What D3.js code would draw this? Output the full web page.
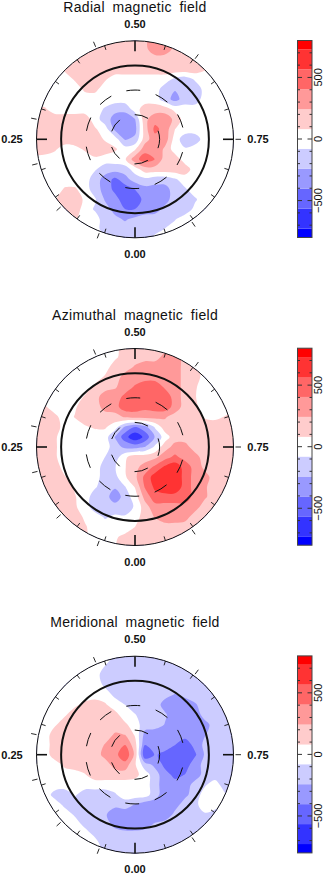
<!DOCTYPE html>
<html lang="en">
<head>
    <meta charset="UTF-8">
    <title>Magnetic field maps</title>
    <script src="https://d3js.org/d3.v7.min.js"></script>
    <style>
        html, body {
            margin: 0;
            background: white;
        }
        text {
            font-family: "Liberation Sans", sans-serif;
            fill: #111;
        }
        .title {
            font-size: 14px;
            word-spacing: 3.5px;
            letter-spacing: 0.3px;
        }
        .phase {
            font-size: 11px;
            font-weight: bold;
        }
        .barLabel {
            font-size: 11px;
        }
    </style>
</head>
<body>
    <script>
        'use strict'

        const titles = ['Radial magnetic field', 'Azimuthal magnetic field', 'Meridional magnetic field']

        //band edges and colours, lowest band first
        const levels = [-728, -566, -404, -242, -80, 80, 242, 404, 566, 728]
        const colors = ['#0000ff', '#3333ff', '#6666ff', '#9999ff', '#ccccff', '#ffffff', '#ffcccc', '#ff9999', '#ff6666', '#ff3333', '#ff0000']
        const barRange = [-800, 800]
        const barTicks = [-800, -700, -600, -500, -400, -300, -200, -100, 0, 100, 200, 300, 400, 500, 600, 700, 800]
        const barLabels = [-500, 0, 500]

        const phaseLabels = [0, 0.25, 0.5, 0.75]
        const minorPhases = d3.range(0, 20).map(i => i / 20)
        const obsPhases = [0.058, 0.1325, 0.211, 0.282, 0.436, 0.602, 0.75, 0.904]
        const colatCircles = [30, 60, 90, 120]

        //field in gauss, read on a square grid over the disc (21 rows, 21 columns)
        const radial = [
            [0,0,0,0,170,170,170,170,170,170,170,200,340,340,200,170,170,0,0,0,0],
            [0,0,0,0,170,170,170,170,170,170,170,200,340,320,200,170,170,0,0,0,0],
            [0,0,0,0,120,170,170,170,170,170,170,170,170,170,170,170,170,100,0,0,0],
            [0,0,0,110,170,170,170,170,170,170,170,170,170,170,170,170,170,90,0,0,0],
            [0,0,0,0,100,170,170,100,0,0,0,0,0,0,-120,-170,-60,0,0,0,0],
            [0,0,0,0,0,110,120,0,0,0,0,0,0,-170,-230,-220,-170,-30,0,0,0],
            [0,0,0,0,0,0,0,0,0,0,0,0,0,-170,-300,-170,-170,0,0,0,0],
            [100,100,0,0,0,0,0,-100,-200,-200,0,170,170,170,30,0,0,0,0,0,0],
            [170,170,170,170,170,170,0,-170,-300,-330,-250,200,340,340,200,0,0,0,0,0,0],
            [170,170,170,170,170,170,100,0,-280,-340,-300,170,450,340,80,0,0,0,0,0,0],
            [170,170,170,170,170,170,170,60,0,-260,-200,170,340,340,0,-170,-170,0,0,0,0],
            [170,170,100,0,30,100,170,170,100,0,60,340,400,200,0,-60,0,0,0,0,0],
            [0,0,0,0,0,0,50,0,0,60,340,500,400,170,170,0,0,0,0,0,0],
            [0,0,0,0,0,0,-60,-170,-170,-170,0,170,170,170,170,170,0,0,0,0,0],
            [0,0,0,0,0,0,-170,-300,-450,-300,-170,-120,-170,-170,-100,0,0,0,0,0,0],
            [0,0,0,100,100,0,-170,-300,-450,-500,-400,-300,-300,-300,-170,-100,0,0,0,0,0],
            [0,0,60,170,170,50,-60,-260,-340,-500,-500,-350,-300,-300,-170,-170,-100,0,0,0,0],
            [0,0,0,170,170,0,-100,-170,-300,-400,-400,-320,-300,-200,-170,-170,-40,0,0,0,0],
            [0,0,0,0,100,0,0,-170,-200,-260,-200,-170,-170,-170,-90,0,0,0,0,0,0],
            [0,0,0,0,0,0,0,-170,-170,-170,-170,-170,-170,-70,0,0,0,0,0,0,0],
            [0,0,0,0,0,0,0,0,-170,-170,-170,-170,0,0,0,0,0,0,0,0,0]
        ]

        const azimuthal = [
            [0,0,0,0,0,0,0,0,0,170,170,170,170,170,170,170,100,0,0,0,0],
            [0,0,0,0,0,0,0,0,40,170,170,170,170,300,340,170,170,0,0,0,0],
            [0,0,0,0,0,0,0,0,170,170,260,340,340,340,340,170,170,0,0,0,0],
            [0,0,0,0,0,0,0,100,170,300,340,340,340,340,340,170,170,0,0,0,0],
            [0,0,0,0,0,0,120,170,220,340,420,500,500,380,340,170,100,0,0,0,0],
            [0,0,0,0,0,100,170,340,340,440,500,500,500,500,340,170,90,0,0,0,0],
            [170,100,0,0,60,170,170,300,340,500,500,450,480,500,340,170,120,0,0,0,0],
            [170,170,120,0,90,170,170,170,170,260,300,300,300,260,170,170,170,60,40,90,170],
            [170,170,170,0,0,60,100,100,0,-270,-404,-300,-60,170,170,170,170,170,170,170,170],
            [170,170,100,0,0,0,0,0,-250,-500,-700,-520,-230,0,170,170,170,170,170,170,170],
            [170,170,100,0,0,0,0,0,-170,-280,-300,-240,-50,170,300,300,170,170,170,170,170],
            [170,170,100,0,0,0,0,-80,-170,50,170,170,200,340,440,340,300,170,170,170,170],
            [170,170,170,0,0,0,0,-150,-90,70,200,300,440,600,670,500,340,200,170,170,170],
            [170,170,170,90,0,0,0,-170,-130,60,200,450,650,700,700,500,340,300,170,170,170],
            [170,170,170,170,60,0,-60,-170,-220,-90,90,420,600,680,680,500,340,260,170,170,170],
            [170,170,170,170,90,0,-170,-170,-340,-170,0,300,500,500,500,500,340,260,170,170,170],
            [170,170,170,170,100,0,-170,-170,-170,-170,-60,170,340,340,340,340,300,170,170,170,170],
            [170,170,170,170,170,50,0,-100,-50,-60,0,170,250,340,340,300,170,170,170,170,170],
            [170,170,170,170,170,100,0,0,0,0,80,170,170,170,170,170,170,170,170,170,170],
            [170,170,170,170,170,100,0,0,60,120,170,170,170,170,170,170,170,170,170,170,170],
            [0,0,0,0,0,0,0,0,60,170,170,170,170,170,170,170,170,170,0,0,0]
        ]

        const meridional = [
            [0,0,0,0,0,0,0,0,-100,-170,-170,-170,-170,-170,-170,-170,-170,-170,-170,-170,-170],
            [0,0,0,0,0,0,0,-70,-170,-170,-170,-170,-170,-170,-170,-170,-170,-170,-170,-170,-170],
            [0,0,0,0,0,0,0,-170,-170,-170,-170,-170,-170,-170,-170,-170,-170,-170,-170,-170,-170],
            [0,0,0,0,0,0,0,-110,-170,-170,-170,-170,-170,-170,-170,-170,-170,-170,-170,-170,-170],
            [0,0,0,0,0,0,0,0,-120,-170,-170,-170,-170,-200,-250,-200,-170,-170,-170,-170,-170],
            [0,0,0,0,50,120,170,100,0,-80,-170,-170,-170,-300,-340,-340,-260,-170,-170,-170,-170],
            [0,0,0,60,170,170,170,170,130,0,-70,-170,-170,-220,-340,-340,-340,-170,-170,-170,-170],
            [0,0,60,170,170,170,170,170,170,110,0,-170,-170,-250,-340,-340,-340,-300,-170,-170,-170],
            [0,0,170,170,170,170,170,170,260,240,60,-300,-340,-340,-340,-340,-340,-250,-170,-170,-170],
            [0,0,170,170,170,170,170,250,340,400,150,-400,-340,-340,-400,-500,-350,-200,-170,-170,-170],
            [0,0,170,170,170,170,170,290,340,550,200,-560,-390,-440,-500,-500,-430,-220,-170,-170,-170],
            [0,0,0,120,170,170,170,170,300,330,100,-170,-280,-450,-500,-500,-300,-200,-170,-170,-170],
            [0,0,0,0,0,70,170,170,170,170,130,0,-170,-340,-450,-400,-340,-170,-170,-170,-170],
            [0,0,0,0,0,0,0,0,0,0,0,0,-170,-340,-340,-340,-170,-100,0,-170,-170],
            [0,0,-140,-170,-60,-170,-170,-170,-100,0,0,0,-170,-340,-340,-280,-170,0,0,-60,-170],
            [0,0,0,-120,-170,-170,-170,-170,-200,-170,-250,-340,-340,-340,-300,-170,-120,0,0,-80,-170],
            [0,0,0,0,-100,-170,-170,-220,-340,-340,-340,-340,-340,-340,-200,-170,-170,-100,-170,-170,-170],
            [0,0,0,0,0,-120,-170,-170,-280,-340,-340,-300,-220,-170,-170,-170,-170,-170,-170,-170,-170],
            [0,0,0,0,0,0,-110,-170,-170,-170,-170,-170,-170,-170,-170,-170,-170,-170,-170,-170,-170],
            [0,0,0,0,0,0,0,-170,-170,-170,-170,-170,-170,-170,-170,-170,-170,-170,-170,-170,-170],
            [0,0,0,0,0,0,0,-170,-170,-170,-170,-170,-170,-170,-170,-170,-170,-170,-170,-170,-170]
        ]

        const fields = [radial, azimuthal, meridional]

        //layout
        const w = 324
        const h = 875
        const panelStep = 307.7
        const cx = 135
        const cy = 139.3
        const outerColat = 120
        const outerR = 98.5
        const gridN = 21

        const svg = d3.select('body')
            .append('svg')
            .attr('width', w)
            .attr('height', h)
            .style('display', 'block')

        //scales
        const rScale = d3.scaleLinear().domain([0, outerColat]).range([0, outerR])
        const angle = d3.scaleLinear().domain([0, 1]).range([0, 2 * Math.PI])
        const gridX = d3.scaleLinear().domain([0.5, gridN - 0.5]).range([cx - 100, cx + 100])
        const gridY = d3.scaleLinear().domain([0.5, gridN - 0.5]).range([cy - 100, cy + 100])
        const barY = d3.scaleLinear().domain(barRange).range([237.5, 40.5])

        const polarX = (phase, r) => cx - r * Math.sin(angle(phase))
        const polarY = (phase, r) => cy + r * Math.cos(angle(phase))

        const contours = d3.contours().size([gridN, gridN]).thresholds(levels)

        //contour rings come out angular on a coarse grid, so round them
        const ringLine = d3.line()
            .x(d => gridX(d[0]))
            .y(d => gridY(d[1]))
            .curve(d3.curveCatmullRomClosed.alpha(0.5))

        const bandPath = band => band.coordinates
            .flatMap(polygon => polygon.map(ring => ringLine(ring.slice(0, -1))))
            .join('')

        svg.append('defs')
            .append('clipPath')
            .attr('id', 'disc')
            .append('circle')
            .attr('cx', cx)
            .attr('cy', cy)
            .attr('r', outerR)

        fields.forEach((field, n) => {
            const g = svg.append('g')
                .attr('transform', `translate(0, ${n * panelStep})`)

            g.append('text')
                .attr('class', 'title')
                .attr('x', cx)
                .attr('y', 12)
                .attr('text-anchor', 'middle')
                .text(titles[n])

            //filled bands
            const map = g.append('g').attr('clip-path', 'url(#disc)')

            map.append('circle')
                .attr('cx', cx)
                .attr('cy', cy)
                .attr('r', outerR)
                .attr('fill', colors[0])

            map.selectAll('path')
                .data(contours(field.flat()))
                .enter()
                .append('path')
                .attr('d', bandPath)
                .attr('fill', (d, i) => colors[i + 1])

            //colatitude circles
            g.selectAll('.colat')
                .data(colatCircles)
                .enter()
                .append('circle')
                .attr('class', 'colat')
                .attr('cx', cx)
                .attr('cy', cy)
                .attr('r', d => rScale(d))
                .attr('fill', 'none')
                .attr('stroke', '#111')
                .attr('stroke-width', d => d === 90 ? 2 : 1)
                .attr('stroke-dasharray', d => d < 90 ? '14 16' : null)
                .attr('stroke-dashoffset', d => d === 30 ? 5 : 17)

            //phase ticks
            g.selectAll('.minor')
                .data(minorPhases)
                .enter()
                .append('line')
                .attr('class', 'minor')
                .attr('x1', d => polarX(d, outerR))
                .attr('y1', d => polarY(d, outerR))
                .attr('x2', d => polarX(d, outerR - (phaseLabels.includes(d) ? 10.5 : 4.5)))
                .attr('y2', d => polarY(d, outerR - (phaseLabels.includes(d) ? 10.5 : 4.5)))
                .attr('stroke', '#111')
                .attr('stroke-width', d => phaseLabels.includes(d) ? 1.6 : 0.9)

            g.selectAll('.obs')
                .data(obsPhases)
                .enter()
                .append('line')
                .attr('class', 'obs')
                .attr('x1', d => polarX(d, outerR + 2))
                .attr('y1', d => polarY(d, outerR + 2))
                .attr('x2', d => polarX(d, outerR + 7.5))
                .attr('y2', d => polarY(d, outerR + 7.5))
                .attr('stroke', '#111')
                .attr('stroke-width', 0.9)

            //phase labels
            g.selectAll('.phase')
                .data(phaseLabels)
                .enter()
                .append('text')
                .attr('class', 'phase')
                .attr('x', d => d === 0.25 ? 12 : d === 0.75 ? 258 : cx)
                .attr('y', d => d === 0.5 ? 28 : d === 0 ? 258 : cy + 4)
                .attr('text-anchor', 'middle')
                .text(d => d3.format('.2f')(d))

            //colour bar
            const bar = g.append('g')
            const edges = [barRange[0], ...levels, barRange[1]]

            bar.selectAll('rect')
                .data(colors)
                .enter()
                .append('rect')
                .attr('x', 297.5)
                .attr('width', 14.5)
                .attr('y', (d, i) => barY(edges[i + 1]))
                .attr('height', (d, i) => barY(edges[i]) - barY(edges[i + 1]))
                .attr('fill', d => d)

            bar.append('rect')
                .attr('x', 297.5)
                .attr('width', 14.5)
                .attr('y', barY(barRange[1]))
                .attr('height', barY(barRange[0]) - barY(barRange[1]))
                .attr('fill', 'none')
                .attr('stroke', '#444')

            bar.selectAll('.barTick')
                .data(barTicks.slice(1, -1))
                .enter()
                .append('path')
                .attr('class', 'barTick')
                .attr('d', d => {
                    const len = d % 500 === 0 ? 4.5 : 2.5
                    return `M297.5,${barY(d)}h${len}M312,${barY(d)}h${-len}`
                })
                .attr('stroke', '#333')
                .attr('fill', 'none')

            bar.selectAll('.barLabel')
                .data(barLabels)
                .enter()
                .append('text')
                .attr('class', 'barLabel')
                .attr('text-anchor', 'middle')
                .attr('transform', d => `translate(321.5, ${barY(d)}) rotate(-90)`)
                .text(d => d < 0 ? `\u2212${-d}` : d)
        })
    </script>
</body>
</html>
